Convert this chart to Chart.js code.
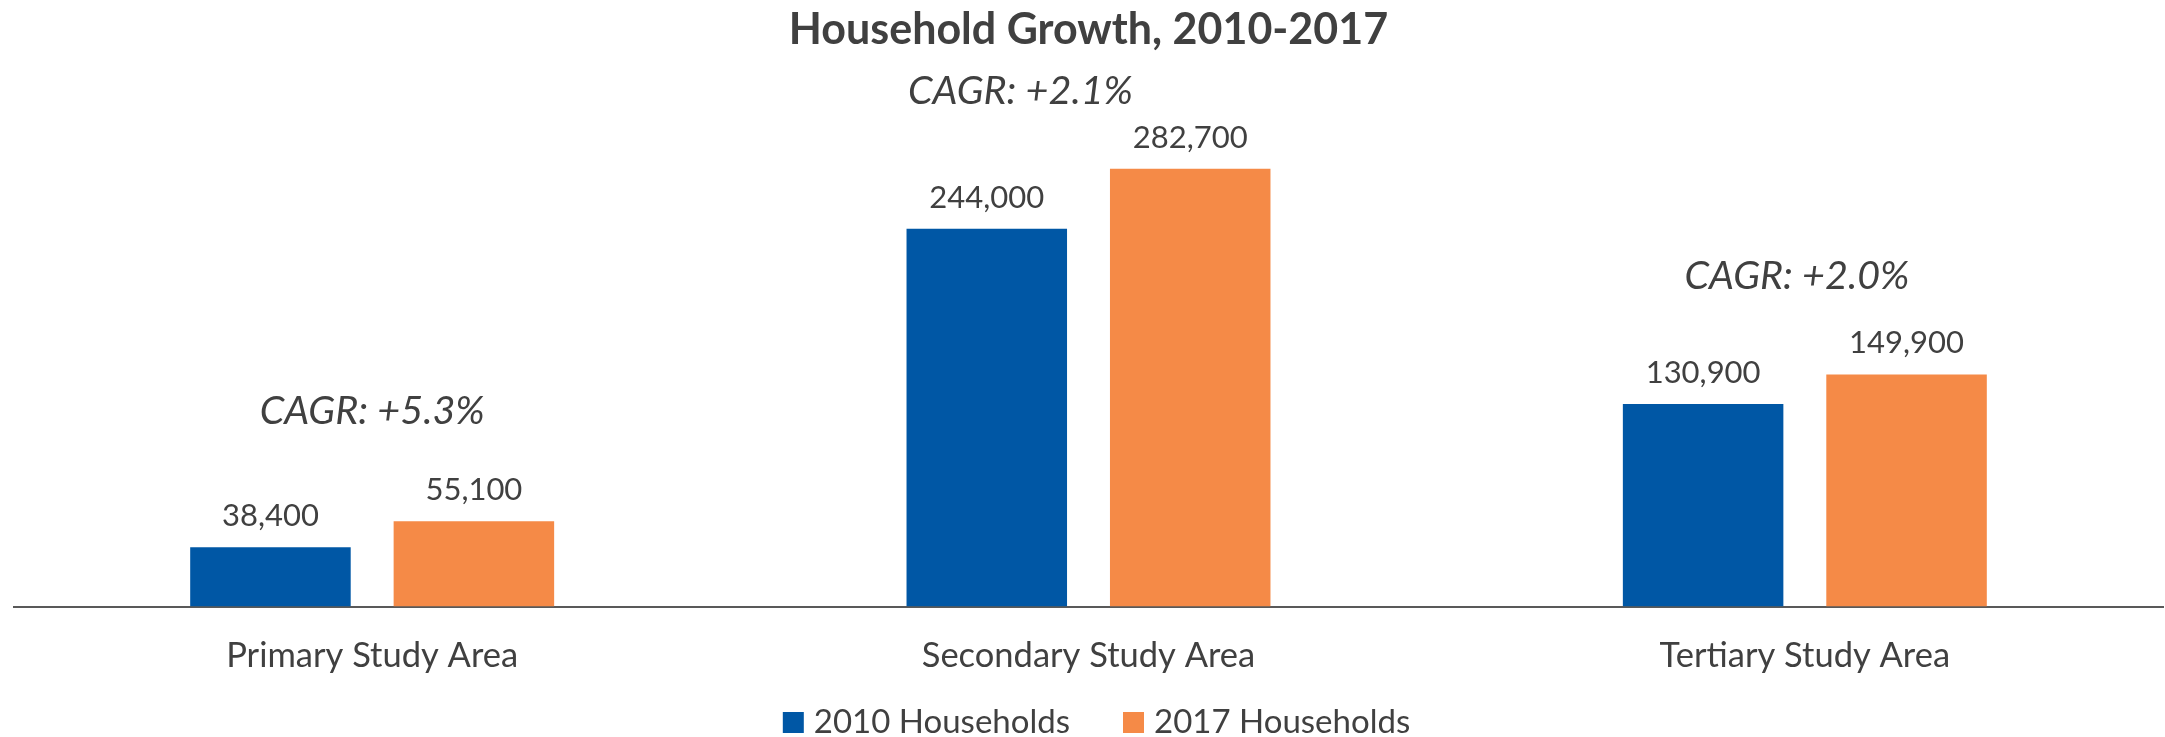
<!DOCTYPE html>
<html>
<head>
<meta charset="utf-8">
<title>Household Growth, 2010-2017</title>
<script src="https://cdn.jsdelivr.net/npm/chart.js@4.4.0/dist/chart.umd.min.js"></script>
<style>
  html, body { margin: 0; padding: 0; background: #fff; }
  #wrap { width: 2165px; height: 737px; position: relative; }
</style>
</head>
<body>
<div id="wrap"><canvas id="growthChart"></canvas></div>
<script>
// Data
const categories = ["Primary Study Area", "Secondary Study Area", "Tertiary Study Area"];
const seriesNames = ["2010 Households", "2017 Households"];
const households2010 = [38400, 244000, 130900];
const households2017 = [55100, 282700, 149900];
const cagrLabels = ["CAGR: +5.3%", "CAGR: +2.1%", "CAGR: +2.0%"];

// where the CAGR notes sit (shift in category widths, height in axis units)
const cagrPlacement = [
  { shift: 0, at: 126000 },
  { shift: -0.095, at: 332500 },
  { shift: -0.011, at: 213500 }
];

const textColor = "#404040";
const fontFamily = "Lato, 'Open Sans', sans-serif";

// value labels above each bar
const valueLabels = {
  id: "valueLabels",
  afterDatasetsDraw(chart) {
    const ctx = chart.ctx;
    ctx.save();
    ctx.font = "31px " + fontFamily;
    ctx.fillStyle = textColor;
    ctx.textAlign = "center";
    ctx.textBaseline = "alphabetic";
    chart.data.datasets.forEach((ds, i) => {
      chart.getDatasetMeta(i).data.forEach((bar, j) => {
        ctx.fillText(ds.data[j].toLocaleString("en-US"), bar.x, bar.y - 21);
      });
    });
    ctx.restore();
  }
};

// CAGR notes over each group
const cagrNotes = {
  id: "cagrNotes",
  afterDatasetsDraw(chart) {
    const ctx = chart.ctx;
    const xs = chart.scales.x, ys = chart.scales.y;
    const catW = (chart.chartArea.right - chart.chartArea.left) / categories.length;
    ctx.save();
    ctx.font = "italic 39.5px " + fontFamily;
    ctx.fillStyle = textColor;
    ctx.textAlign = "center";
    ctx.textBaseline = "middle";
    cagrLabels.forEach((txt, i) => {
      const p = cagrPlacement[i];
      ctx.fillText(txt, xs.getPixelForValue(i) + p.shift * catW, ys.getPixelForValue(p.at));
    });
    ctx.restore();
  }
};

// legend drawn by hand so box/text spacing matches
const bottomLegend = {
  id: "bottomLegend",
  afterDraw(chart) {
    const ctx = chart.ctx;
    const box = 21, gap = 10, between = 53;
    ctx.save();
    ctx.font = "33px " + fontFamily;
    const items = chart.data.datasets.map(ds => ({
      text: ds.label, color: ds.backgroundColor, w: ctx.measureText(ds.label).width
    }));
    let total = items.reduce((s, it) => s + box + gap + it.w, 0) + between * (items.length - 1);
    let x = chart.width / 2 - total / 2 + 14;
    const cy = 722.5;
    ctx.textBaseline = "middle";
    ctx.textAlign = "left";
    items.forEach(it => {
      ctx.fillStyle = it.color;
      ctx.fillRect(x, cy - box / 2, box, box);
      x += box + gap;
      ctx.fillStyle = textColor;
      ctx.fillText(it.text, x, cy);
      x += it.w + between;
    });
    ctx.restore();
  }
};

new Chart(document.getElementById("growthChart"), {
  type: "bar",
  data: {
    labels: categories,
    datasets: [
      {
        label: seriesNames[0],
        data: households2010,
        backgroundColor: "#0057A5",
        categoryPercentage: 0.568,
        barPercentage: 0.789
      },
      {
        label: seriesNames[1],
        data: households2017,
        backgroundColor: "#F58A47",
        categoryPercentage: 0.568,
        barPercentage: 0.789
      }
    ]
  },
  options: {
    responsive: true,
    maintainAspectRatio: false,
    animation: false,
    layout: { padding: { left: 14, right: 2, top: 0, bottom: 31 } },
    plugins: {
      legend: { display: false },
      tooltip: { enabled: false },
      title: {
        display: true,
        text: "Household Growth, 2010-2017",
        color: textColor,
        font: { family: fontFamily, size: 43, weight: "bold" },
        padding: { top: 4, bottom: 9 }
      }
    },
    scales: {
      x: {
        grid: { display: false, drawTicks: false },
        border: { display: true, color: "#595959", width: 2 },
        ticks: {
          color: textColor,
          font: { family: fontFamily, size: 34.5 },
          padding: 29
        }
      },
      y: {
        display: false,
        min: 0,
        max: 350000
      }
    }
  },
  plugins: [valueLabels, cagrNotes, bottomLegend]
});
</script>
</body>
</html>
